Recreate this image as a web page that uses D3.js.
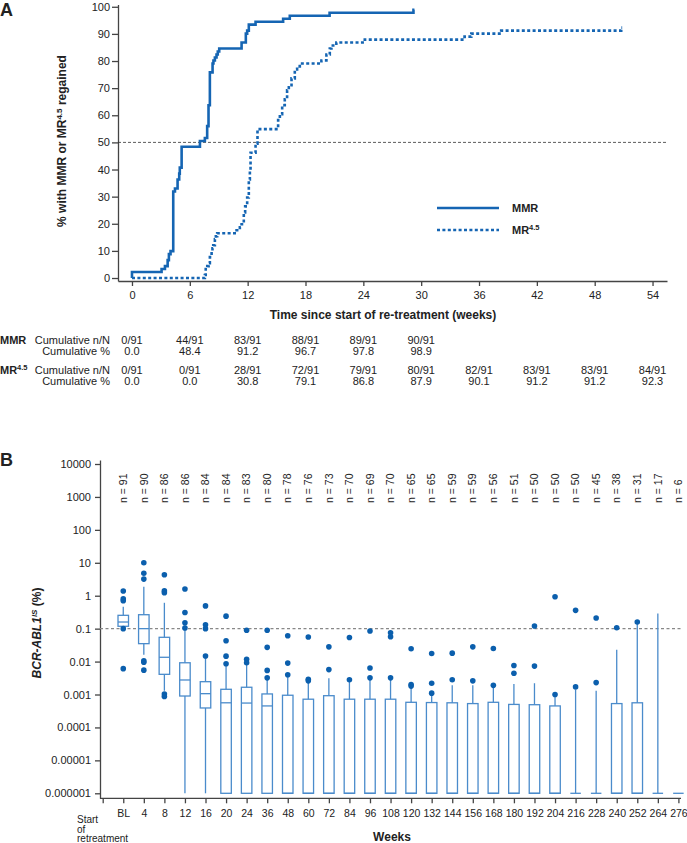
<!DOCTYPE html>
<html>
<head>
<meta charset="utf-8">
<script src="https://cdn.jsdelivr.net/npm/d3@7"></script>
<style>
  body { margin: 0; background: #fff; }
  text { font-family: "Liberation Sans", Arial, sans-serif; fill: #222; }
</style>
</head>
<body>
<script>
// ---- panel A: time to MMR / MR4.5 (step curves) ----
const mmrWeeks = [0, 0, 3.07, 3.42, 3.7, 3.83, 4.0, 4.28, 4.46, 4.73, 4.9, 4.96, 5.15, 7.05, 7.56, 7.8, 7.94, 8.08, 8.36, 8.45, 8.6, 8.77, 8.9, 9.05, 11.37, 11.81, 11.95, 12.12, 12.82, 15.68, 16.37, 20.5, 29.2, 29.3]
const mmrPct = [0, 2.2, 3.3, 4.4, 6.6, 8.8, 9.9, 31.9, 33.0, 36.3, 38.5, 40.7, 48.4, 50.5, 51.6, 56.0, 63.7, 75.8, 79.1, 80.2, 81.3, 82.4, 83.5, 84.6, 86.8, 90.1, 91.2, 93.4, 94.5, 95.6, 96.7, 97.8, 98.9, 98.9]
const mr45Weeks = [0, 7.56, 7.65, 7.81, 7.95, 8.08, 8.26, 8.35, 8.43, 8.6, 8.7, 8.84, 10.85, 11.19, 11.37, 11.6, 11.74, 11.95, 12.12, 12.23, 12.3, 12.82, 13.02, 15.16, 15.34, 15.58, 15.85, 16.09, 16.27, 16.55, 16.89, 17.13, 17.41, 19.65, 20.17, 20.52, 20.69, 21.2, 24.15, 34.5, 35.2, 38.3, 50.75, 50.85]
const mr45Pct = [0, 1.1, 3.3, 4.4, 5.5, 7.7, 9.9, 11.0, 12.1, 14.3, 15.4, 16.5, 17.6, 18.7, 19.8, 24.2, 26.4, 29.7, 36.3, 39.6, 46.2, 49.5, 54.9, 58.2, 60.4, 63.7, 65.9, 69.2, 70.3, 73.6, 76.9, 78.0, 79.1, 80.2, 82.4, 84.6, 85.7, 86.8, 87.9, 89.0, 90.1, 91.2, 92.3, 92.3]

// table under panel A
const tableWeeks = [0, 6, 12, 18, 24, 30, 36, 42, 48, 54]
const mmrN = ['0/91', '44/91', '83/91', '88/91', '89/91', '90/91']
const mmrCum = ['0.0', '48.4', '91.2', '96.7', '97.8', '98.9']
const mr45N = ['0/91', '0/91', '28/91', '72/91', '79/91', '80/91', '82/91', '83/91', '83/91', '84/91']
const mr45Cum = ['0.0', '0.0', '30.8', '79.1', '86.8', '87.9', '90.1', '91.2', '91.2', '92.3']

// ---- panel B: BCR-ABL1 box plots by week ----
const weekCats = ['BL', '4', '8', '12', '16', '20', '24', '36', '48', '60', '72', '84', '96', '108', '120', '132', '144', '156', '168', '180', '192', '204', '216', '228', '240', '252', '264', '276']
const nCounts = [91, 90, 86, 86, 84, 84, 83, 80, 78, 76, 73, 70, 69, 70, 65, 65, 59, 59, 56, 51, 50, 50, 50, 45, 38, 31, 17, 6]
// 0.000001 is the plotting floor (undetectable)
const q1 = [0.118, 0.035, 0.0041, 0.0009, 0.00039, 1e-6, 1e-6, 1e-6, 1e-6, 1e-6, 1e-6, 1e-6, 1e-6, 1e-6, 1e-6, 1e-6, 1e-6, 1e-6, 1e-6, 1e-6, 1e-6, 1e-6, 1e-6, 1e-6, 1e-6, 1e-6, 1e-6, 1e-6]
const medians = [0.159, 0.1, 0.0135, 0.00276, 0.00106, 0.00056, 0.00055, 0.00045, 1e-6, 1e-6, 1e-6, 1e-6, 1e-6, 1e-6, 1e-6, 1e-6, 1e-6, 1e-6, 1e-6, 1e-6, 1e-6, 1e-6, 1e-6, 1e-6, 1e-6, 1e-6, 1e-6, 1e-6]
const q3 = [0.254, 0.265, 0.0546, 0.0092, 0.00245, 0.00144, 0.00166, 0.00104, 0.00095, 0.00072, 0.00092, 0.00072, 0.00072, 0.00072, 0.00058, 0.00057, 0.00056, 0.00053, 0.00058, 0.0005, 0.00049, 0.00045, 1e-6, 1e-6, 0.00053, 0.00056, 1e-6, 1e-6]
const whiskerLow = [0.118, 0.016, 0.0013, 1e-6, 1e-6, 1e-6, 1e-6, 1e-6, 1e-6, 1e-6, 1e-6, 1e-6, 1e-6, 1e-6, 1e-6, 1e-6, 1e-6, 1e-6, 1e-6, 1e-6, 1e-6, 1e-6, 1e-6, 1e-6, 1e-6, 1e-6, 1e-6, 1e-6]
const whiskerHigh = [0.46, 1.88, 0.61, 0.1, 0.014, 0.0075, 0.009, 0.003, 0.0036, 0.0026, 0.0031, 0.0025, 0.003, 0.003, 0.0017, 0.001, 0.0019, 0.0019, 0.0017, 0.0021, 0.0022, 0.00085, 0.0014, 0.0013, 0.023, 0.14, 0.29, 1e-6]
const outliers = [
  [1.39, 0.8, 0.7, 0.1, 0.0061],
  [10, 4.8, 3.2, 0.0106, 0.0095, 0.0055],
  [4.35, 1.4, 1.24, 0.00104, 0.00087],
  [1.6, 0.31, 0.15, 0.105],
  [0.49, 0.132, 0.1, 0.0148],
  [0.24, 0.043, 0.0146, 0.0086],
  [0.089, 0.0117, 0.0092],
  [0.089, 0.027, 0.0054, 0.0032],
  [0.061, 0.009, 0.004],
  [0.056, 0.0029, 0.0026],
  [0.028, 0.0057],
  [0.054, 0.0028],
  [0.085, 0.0064, 0.0032],
  [0.075, 0.057, 0.0032],
  [0.0245, 0.002, 0.0018],
  [0.0176, 0.0022, 0.0011],
  [0.018, 0.0028],
  [0.028, 0.0026],
  [0.025, 0.0019],
  [0.0076, 0.0044],
  [0.12, 0.0073],
  [0.93, 0.001],
  [0.36, 0.0017],
  [0.21, 0.0023],
  [0.107],
  [0.16],
  [],
  []
]
const bTickVals = [1e-6, 1e-5, 1e-4, 1e-3, 1e-2, 1e-1, 1, 10, 100, 1000, 10000]
const bTickLabels = ['0.000001', '0.00001', '0.0001', '0.001', '0.01', '0.1', '1', '10', '100', '1000', '10000']

const blue = '#1565b3'
const boxBlue = '#4a8bcb'
const dotBlue = '#0b5fad'
const axisCol = '#444'

const svg = d3.select('body').append('svg')
  .attr('width', 687)
  .attr('height', 843)

const styleAxis = g => {
  g.selectAll('path, line').attr('stroke', axisCol).attr('stroke-width', 1.3)
  g.selectAll('text').attr('font-size', 11).attr('fill', '#222')
    .attr('font-family', '"Liberation Sans", Arial, sans-serif')
}

// ============ Panel A ============
const xA = d3.scaleLinear().domain([-1.45, 55.5]).range([118, 667])
const yA = d3.scaleLinear().domain([-1.1, 100.8]).range([281, 4.6])

svg.append('text').text('A')
  .attr('x', 0).attr('y', 16)
  .attr('font-size', 18).attr('font-weight', 'bold').attr('fill', '#111')

svg.append('g')
  .attr('transform', 'translate(118,0)')
  .call(d3.axisLeft(yA).tickValues(d3.range(0, 101, 10)).tickSize(6).tickPadding(2).tickSizeOuter(0))
  .call(styleAxis)

svg.append('g')
  .attr('transform', 'translate(0,281)')
  .call(d3.axisBottom(xA).tickValues(tableWeeks).tickSize(5).tickPadding(5).tickSizeOuter(0))
  .call(styleAxis)

// 50% reference
svg.append('line')
  .attr('x1', xA.range()[0]).attr('x2', xA.range()[1])
  .attr('y1', yA(50)).attr('y2', yA(50))
  .attr('stroke', '#333').attr('stroke-width', 0.8)
  .attr('stroke-dasharray', '3,2')

const stepLine = d3.line()
  .x(d => xA(d[0]))
  .y(d => yA(d[1]))
  .curve(d3.curveStepAfter)

svg.append('path')
  .datum(d3.zip(mr45Weeks, mr45Pct))
  .attr('d', stepLine)
  .attr('fill', 'none')
  .attr('stroke', blue)
  .attr('stroke-width', 2.6)
  .attr('stroke-dasharray', '3,2.4')

svg.append('path')
  .datum(d3.zip(mmrWeeks, mmrPct))
  .attr('d', stepLine)
  .attr('fill', 'none')
  .attr('stroke', blue)
  .attr('stroke-width', 2.6)

// y title
const yTitleA = svg.append('text')
  .attr('transform', 'translate(66,141) rotate(-90)')
  .attr('text-anchor', 'middle')
  .attr('font-size', 12).attr('font-weight', 'bold')
yTitleA.append('tspan').text('% with MMR or MR')
yTitleA.append('tspan').text('4.5').attr('font-size', 8).attr('dy', -4)
yTitleA.append('tspan').text(' regained').attr('dy', 4)

svg.append('text').text('Time since start of re-treatment (weeks)')
  .attr('x', 383).attr('y', 319)
  .attr('text-anchor', 'middle')
  .attr('font-size', 12).attr('font-weight', 'bold')

// legend
svg.append('line')
  .attr('x1', 437).attr('x2', 499).attr('y1', 208).attr('y2', 208)
  .attr('stroke', blue).attr('stroke-width', 2.6)
svg.append('line')
  .attr('x1', 437).attr('x2', 499).attr('y1', 230).attr('y2', 230)
  .attr('stroke', blue).attr('stroke-width', 2.6).attr('stroke-dasharray', '3,2.4')
svg.append('text').text('MMR')
  .attr('x', 512).attr('y', 212)
  .attr('font-size', 11).attr('font-weight', 'bold')
const legMr = svg.append('text')
  .attr('x', 512).attr('y', 234)
  .attr('font-size', 11).attr('font-weight', 'bold')
legMr.append('tspan').text('MR')
legMr.append('tspan').text('4.5').attr('font-size', 7.5).attr('dy', -4)

// table
const rowLabel = (y, lab) => {
  svg.append('text').text(lab)
    .attr('x', 110).attr('y', y)
    .attr('text-anchor', 'end').attr('font-size', 11)
}
const rowVals = (y, vals) => {
  svg.append('g').selectAll('text')
    .data(vals).enter().append('text')
    .attr('x', (d, i) => xA(tableWeeks[i]))
    .attr('y', y)
    .attr('text-anchor', 'middle')
    .attr('font-size', 11)
    .text(d => d)
}
svg.append('text').text('MMR')
  .attr('x', 0).attr('y', 344)
  .attr('font-size', 11).attr('font-weight', 'bold')
rowLabel(344, 'Cumulative n/N')
rowLabel(355, 'Cumulative %')
rowVals(344, mmrN)
rowVals(355, mmrCum)

const tMr = svg.append('text')
  .attr('x', 0).attr('y', 374)
  .attr('font-size', 11).attr('font-weight', 'bold')
tMr.append('tspan').text('MR')
tMr.append('tspan').text('4.5').attr('font-size', 7.5).attr('dy', -4)
rowLabel(374, 'Cumulative n/N')
rowLabel(385, 'Cumulative %')
rowVals(374, mr45N)
rowVals(385, mr45Cum)

// ============ Panel B ============
const xB = d3.scalePoint().domain(['start'].concat(weekCats)).range([102.7, 678.4])
const yB = d3.scaleLog().domain([Math.pow(10, -6.152), Math.pow(10, 4.1215)]).range([798.3, 460])

svg.append('text').text('B')
  .attr('x', 0).attr('y', 466)
  .attr('font-size', 18).attr('font-weight', 'bold').attr('fill', '#111')

svg.append('g')
  .attr('transform', 'translate(100,0)')
  .call(d3.axisLeft(yB).tickValues(bTickVals).tickFormat((d, i) => bTickLabels[i])
    .tickSize(5).tickPadding(4).tickSizeOuter(0))
  .call(styleAxis)

const xAxisB = svg.append('g')
  .attr('transform', 'translate(0,798.3)')
  .call(d3.axisBottom(xB).tickFormat(d => d === 'start' ? '' : d)
    .tickSize(5).tickPadding(6).tickSizeOuter(0))
  .call(styleAxis)
xAxisB.select('.domain').attr('d', 'M100,0H681')
xAxisB.selectAll('text').attr('font-size', 10.5)

// 0.1% reference
svg.append('line')
  .attr('x1', 100).attr('x2', 681)
  .attr('y1', yB(0.1)).attr('y2', yB(0.1))
  .attr('stroke', '#888').attr('stroke-width', 1.2)
  .attr('stroke-dasharray', '3,2.5')

// n counts
svg.append('g').selectAll('text')
  .data(weekCats).enter().append('text')
  .attr('transform', d => 'translate(' + xB(d) + ',503) rotate(-90)')
  .attr('dy', '0.35em')
  .attr('font-size', 10.5)
  .text((d, i) => 'n = ' + nCounts[i])

const boxW = 10.5
const boxes = svg.append('g').selectAll('g')
  .data(weekCats).enter().append('g')

boxes.append('line')
  .attr('x1', d => xB(d)).attr('x2', d => xB(d))
  .attr('y1', (d, i) => yB(whiskerLow[i]))
  .attr('y2', (d, i) => yB(whiskerHigh[i]))
  .attr('stroke', boxBlue).attr('stroke-width', 1.3)

boxes.append('rect')
  .attr('x', d => xB(d) - boxW / 2)
  .attr('width', boxW)
  .attr('y', (d, i) => yB(q3[i]))
  .attr('height', (d, i) => yB(q1[i]) - yB(q3[i]))
  .attr('fill', '#fff')
  .attr('stroke', boxBlue).attr('stroke-width', 1.3)

boxes.append('line')
  .attr('x1', d => xB(d) - boxW / 2).attr('x2', d => xB(d) + boxW / 2)
  .attr('y1', (d, i) => yB(medians[i]))
  .attr('y2', (d, i) => yB(medians[i]))
  .attr('stroke', boxBlue).attr('stroke-width', 1.3)

boxes.each(function (d, i) {
  d3.select(this).selectAll('circle')
    .data(outliers[i]).enter().append('circle')
    .attr('cx', xB(d))
    .attr('cy', v => yB(v))
    .attr('r', 2.8)
    .attr('fill', dotBlue)
})

// y title B
const yTitleB = svg.append('text')
  .attr('transform', 'translate(41,633) rotate(-90)')
  .attr('text-anchor', 'middle')
  .attr('font-size', 12).attr('font-weight', 'bold')
yTitleB.append('tspan').text('BCR-ABL1').attr('font-style', 'italic')
yTitleB.append('tspan').text('IS').attr('font-style', 'italic').attr('font-size', 8).attr('dy', -4)
yTitleB.append('tspan').text(' (%)').attr('dy', 4)

// start-of-retreatment label and x title
const startLab = svg.append('text')
  .attr('x', 77).attr('y', 823)
  .attr('font-size', 10)
startLab.append('tspan').text('Start').attr('x', 77)
startLab.append('tspan').text('of').attr('x', 77).attr('dy', 9.6)
startLab.append('tspan').text('retreatment').attr('x', 77).attr('dy', 9.6)

svg.append('text').text('Weeks')
  .attr('x', 392).attr('y', 841)
  .attr('text-anchor', 'middle')
  .attr('font-size', 12).attr('font-weight', 'bold')
</script>
</body>
</html>
